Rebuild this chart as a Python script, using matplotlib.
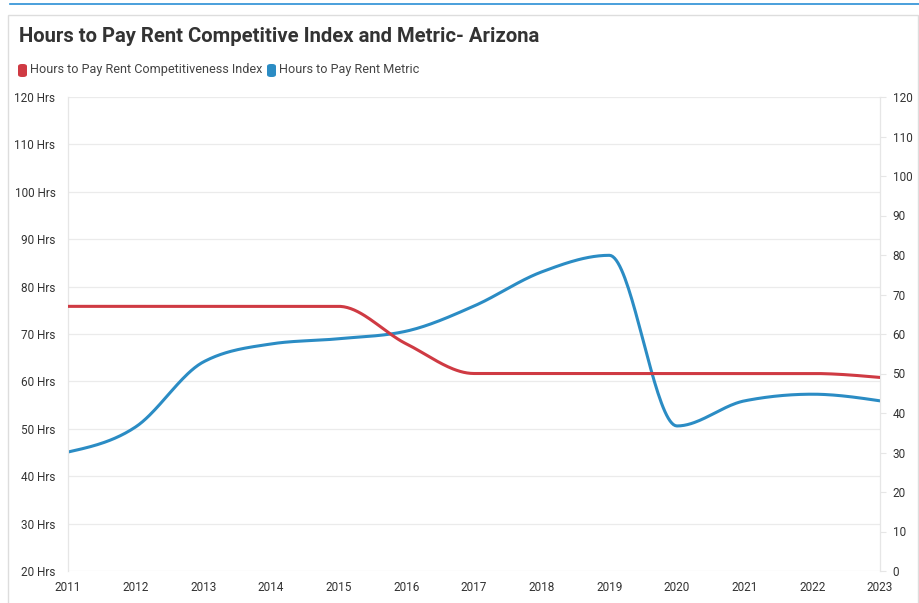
import numpy as np
import matplotlib
matplotlib.use("Agg")
import matplotlib.pyplot as plt
import matplotlib.patches as patches
from matplotlib.lines import Line2D

plt.rcParams['font.family'] = ['Roboto', 'DejaVu Sans']

years = [2011, 2012, 2013, 2014, 2015, 2016, 2017, 2018, 2019, 2020, 2021, 2022, 2023]
# Hours to Pay Rent Metric (left axis, Hrs)
metric = [45.1, 50.4, 64.1, 67.9, 69.0, 70.6, 75.9, 83.1, 86.6, 50.6, 55.9, 57.3, 55.9]
# Hours to Pay Rent Competitiveness Index (right axis)
index = [67, 67, 67, 67, 67, 57.5, 50, 50, 50, 50, 50, 50, 49]

left_ticks = list(range(20, 121, 10))
left_labels = [f"{t} Hrs" for t in left_ticks]
right_ticks = list(range(0, 121, 10))

title = "Hours to Pay Rent Competitive Index and Metric- Arizona"
name_index = "Hours to Pay Rent Competitiveness Index"
name_metric = "Hours to Pay Rent Metric"

red = "#cf3a43"
blue = "#2b8cc4"
txt = "#333333"


def monotone(x, y, n=40):
    # monotone cubic curve (like d3 curveMonotoneX), only used to draw the line
    x = np.asarray(x, float)
    y = np.asarray(y, float)
    h = np.diff(x)
    d = np.diff(y) / h
    m = np.zeros_like(y)
    for i in range(1, len(y) - 1):
        p = (d[i - 1] * h[i] + d[i] * h[i - 1]) / (h[i - 1] + h[i])
        m[i] = (np.sign(d[i - 1]) + np.sign(d[i])) * min(abs(d[i - 1]), abs(d[i]), 0.5 * abs(p))
    m[0] = (3 * d[0] - m[1]) / 2
    m[-1] = (3 * d[-1] - m[-2]) / 2
    xs, ys = [], []
    t = np.linspace(0, 1, n)
    for i in range(len(h)):
        h00 = 2 * t**3 - 3 * t**2 + 1
        h10 = t**3 - 2 * t**2 + t
        h01 = -2 * t**3 + 3 * t**2
        h11 = t**3 - t**2
        xs.append(x[i] + t * h[i])
        ys.append(h00 * y[i] + h10 * h[i] * m[i] + h01 * y[i + 1] + h11 * h[i] * m[i + 1])
    return np.concatenate(xs), np.concatenate(ys)


fig = plt.figure(figsize=(9.19, 6.03), dpi=100)
W, H = 919, 603

# page decoration: top blue rule and card border
fig.add_artist(Line2D([10 / W, 1], [1 - 4 / H, 1 - 4 / H], color="#2b8fd6", lw=1.2))
fig.add_artist(patches.Rectangle((8 / W, -0.02), 910 / W, 1 - 15 / H + 0.02,
                                 fill=False, edgecolor="#dddddd", lw=1.0))

ax = fig.add_axes([68 / W, 1 - 571 / H, 812 / W, 474 / H])
ax2 = ax.twinx()

xm, ym = monotone(years, metric)
ax.plot(xm, ym, color=blue, lw=2.2, solid_capstyle="round", zorder=3)
xi, yi = monotone(years, index)
ax2.plot(xi, yi, color=red, lw=2.2, solid_capstyle="round", zorder=3)

ax.set_xlim(2011, 2023)
ax.set_ylim(20, 120)
ax2.set_ylim(0, 120)
ax.set_xticks(years)
ax.set_xticklabels([str(y) for y in years])
ax.set_yticks(left_ticks)
ax.set_yticklabels(left_labels)
ax2.set_yticks(right_ticks)

ax.grid(axis="y", color="#ebebeb", lw=0.9)
ax.set_axisbelow(True)
for a in (ax, ax2):
    for s in ("top", "bottom"):
        a.spines[s].set_visible(False)
    a.spines["left"].set_color("#e6e6e6")
    a.spines["right"].set_color("#e6e6e6")
ax.tick_params(axis="y", length=0, pad=9, labelsize=8.5, labelcolor=txt)
ax.tick_params(axis="x", length=0, pad=7, labelsize=8.5, labelcolor=txt)
ax2.tick_params(axis="y", length=4, color="#e6e6e6", pad=5, labelsize=8.5, labelcolor=txt)

fig.text(19 / W, 1 - 37 / H, title, fontsize=14.6, fontweight="bold", color="#333333",
         va="center", ha="left")

# legend
for x0, col, label in [(18, red, name_index), (267, blue, name_metric)]:
    fig.add_artist(patches.FancyBboxPatch((x0 / W, 1 - 77 / H), 9 / W, 13 / H,
                                          boxstyle="round,pad=0,rounding_size=0.004",
                                          facecolor=col, edgecolor="none",
                                          transform=fig.transFigure))
    fig.text((x0 + 12) / W, 1 - 70 / H, label, fontsize=9.1, color="#444444",
             va="center", ha="left")

fig.savefig("out.png", dpi=100)
